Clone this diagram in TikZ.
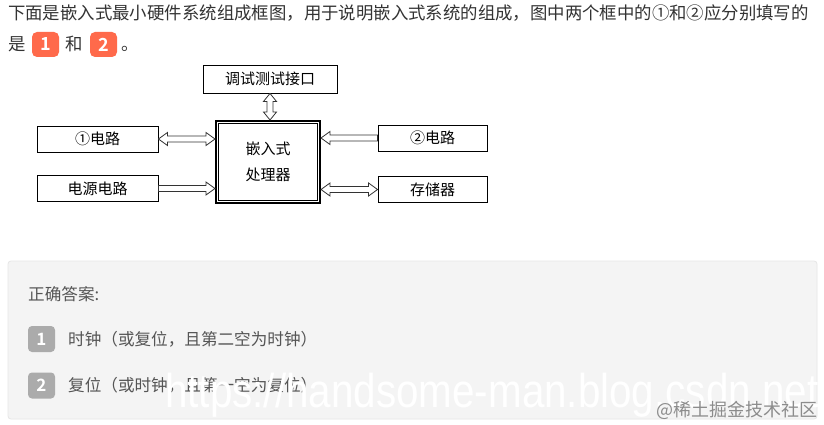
\documentclass[tikz,border=0pt]{standalone}
\usepackage{fontspec}
\setmainfont{Noto Sans CJK SC}
\newfontfamily\badgefont{Noto Sans CJK SC Bold}
\newfontfamily\wmfont[FakeStretch=0.85]{Liberation Sans}
\usetikzlibrary{calc}
\definecolor{qtext}{HTML}{333333}
\definecolor{atext}{HTML}{555555}
\definecolor{badgeorange}{HTML}{FF6A4B}
\definecolor{badgegray}{HTML}{ABABAB}
\definecolor{panelfill}{HTML}{F4F4F4}
\definecolor{panelline}{HTML}{E6E6E6}
\definecolor{arrline}{HTML}{333333}
\newcommand\arrhl{9pt}
\newcommand\arrhw{6.5pt}
\newcommand\arrsw{3pt}
% double-headed horizontal arrow, #1 left tip, #2 right tip
\newcommand\hollowLR[2]{\draw[hollowarr] let \p1=(#1), \p2=(#2) in
  (\x1,\y1) -- (\x1+\arrhl,\y1+\arrhw) -- (\x1+\arrhl,\y1+\arrsw) -- (\x2-\arrhl,\y1+\arrsw)
  -- (\x2-\arrhl,\y1+\arrhw) -- (\x2,\y1) -- (\x2-\arrhl,\y1-\arrhw) -- (\x2-\arrhl,\y1-\arrsw)
  -- (\x1+\arrhl,\y1-\arrsw) -- (\x1+\arrhl,\y1-\arrhw) -- cycle;}
% single arrow, tail #1 (left), tip #2 (right)
\newcommand\hollowR[2]{\draw[hollowarr] let \p1=(#1), \p2=(#2) in
  (\x1,\y1+\arrsw) -- (\x2-\arrhl,\y1+\arrsw) -- (\x2-\arrhl,\y1+\arrhw) -- (\x2,\y1)
  -- (\x2-\arrhl,\y1-\arrhw) -- (\x2-\arrhl,\y1-\arrsw) -- (\x1,\y1-\arrsw) -- cycle;}
% single arrow, tip #1 (left), tail #2 (right)
\newcommand\hollowL[2]{\draw[hollowarr] let \p1=(#1), \p2=(#2) in
  (\x2,\y2+\arrsw) -- (\x1+\arrhl,\y2+\arrsw) -- (\x1+\arrhl,\y2+\arrhw) -- (\x1,\y2)
  -- (\x1+\arrhl,\y2-\arrhw) -- (\x1+\arrhl,\y2-\arrsw) -- (\x2,\y2-\arrsw) -- cycle;}
% double-headed vertical arrow, #1 upper tip, #2 lower tip
\newcommand\hollowUD[2]{\draw[hollowarr] let \p1=(#1), \p2=(#2) in
  (\x1,\y1) -- (\x1+\arrhw,\y1-8pt) -- (\x1+\arrsw,\y1-8pt) -- (\x1+\arrsw,\y2+8pt)
  -- (\x1+\arrhw,\y2+8pt) -- (\x1,\y2) -- (\x1-\arrhw,\y2+8pt) -- (\x1-\arrsw,\y2+8pt)
  -- (\x1-\arrsw,\y1-8pt) -- (\x1-\arrhw,\y1-8pt) -- cycle;}
\begin{document}
\begin{tikzpicture}[x=1pt,y=-1pt,
  qtxt/.style={inner sep=0pt, anchor=base west, text=qtext, font=\fontsize{17.4}{18}\selectfont},
  obadge/.style={fill=badgeorange, rounded corners=5pt, text=white, inner sep=0pt,
     minimum width=27pt, minimum height=25pt, font=\badgefont\fontsize{18}{18}\selectfont},
  gbadge/.style={fill=badgegray, rounded corners=4pt, text=white, inner sep=0pt,
     minimum width=27pt, minimum height=26pt, font=\badgefont\fontsize{17}{17}\selectfont},
  atxt/.style={inner sep=0pt, anchor=base west, text=atext, font=\fontsize{16.6}{18}\selectfont},
  blk/.style={draw=black, line width=0.9pt, inner sep=0pt, text=black,
     font=\fontsize{15}{15}\selectfont},
  hollowarr/.style={draw=arrline, fill=white, line width=0.8pt, line join=miter},
  panel/.style={fill=panelfill, draw=panelline, line width=0.8pt, rounded corners=3pt}]
\useasboundingbox (0,0) rectangle (824,425);
\fill[white] (0,0) rectangle (824,425);

% question text
\node[qtxt] (q1) at (8,19.6) {下面是嵌入式最小硬件系统组成框图，用于说明嵌入式系统的组成，图中两个框中的①和②应分别填写的};
\node[qtxt] (q2a) at (8,50.6) {是};
\node[obadge] (b1) at (45.5,44.5) {1};
\node[qtxt] (q2b) at (65,50.6) {和};
\node[obadge] (b2) at (103.5,44.5) {2};
\node[qtxt] (q2c) at (121,50.6) {。};

% diagram
\node[blk, minimum width=134pt, minimum height=28pt] (t) at (270,79) {调试测试接口};
\node[blk, minimum width=121pt, minimum height=26pt] (l1) at (97.5,139) {①电路};
\node[blk, minimum width=121pt, minimum height=26pt] (l2) at (97.5,188.5) {电源电路};
\node[blk, minimum width=109pt, minimum height=26pt] (r1) at (432.5,138) {②电路};
\node[blk, minimum width=109pt, minimum height=26pt] (r2) at (432.5,189.5) {存储器};
\node[draw=black, line width=1.8pt, inner sep=0pt, minimum width=104.2pt, minimum height=82.2pt,
  align=center, font=\fontsize{15}{26}\selectfont] (c) at (268,162) {嵌入式\\处理器};
\draw[line width=0.8pt] ($(c.north west)+(3.8,3.8)$) rectangle ($(c.south east)+(-3.8,-3.8)$);

\hollowLR{l1.east}{c.west |- l1.east}
\hollowR{l2.east}{c.west |- l2.east}
\hollowL{c.east |- r1.west}{r1.west}
\hollowLR{c.east |- r2.west}{r2.west}
\hollowUD{t.south}{c.north -| t.south}

% answer panel
\draw[panel] (8,261) rectangle (817,419);
\node[atxt] (ah) at (28,300) {正确答案:};
\node[gbadge] (g1) at (41.5,339) {1};
\node[atxt] (a1) at (68,345.3) {时钟（或复位，且第二空为时钟）};
\node[gbadge] (g2) at (41.5,385.5) {2};
\node[atxt] (a2) at (68,391.8) {复位（或时钟，且第一空为复位）};

% watermarks
\node[inner sep=0pt, anchor=base west, text=white, font=\wmfont\fontsize{47.5}{48}\selectfont] (wm) at (165,407) {https://handsome-man.blog.csdn.net};
\node[inner sep=0pt, anchor=east, text=black!45, font=\fontsize{18}{18}\selectfont] (wm2) at (818,410) {@稀土掘金技术社区};
\end{tikzpicture}
\end{document}
